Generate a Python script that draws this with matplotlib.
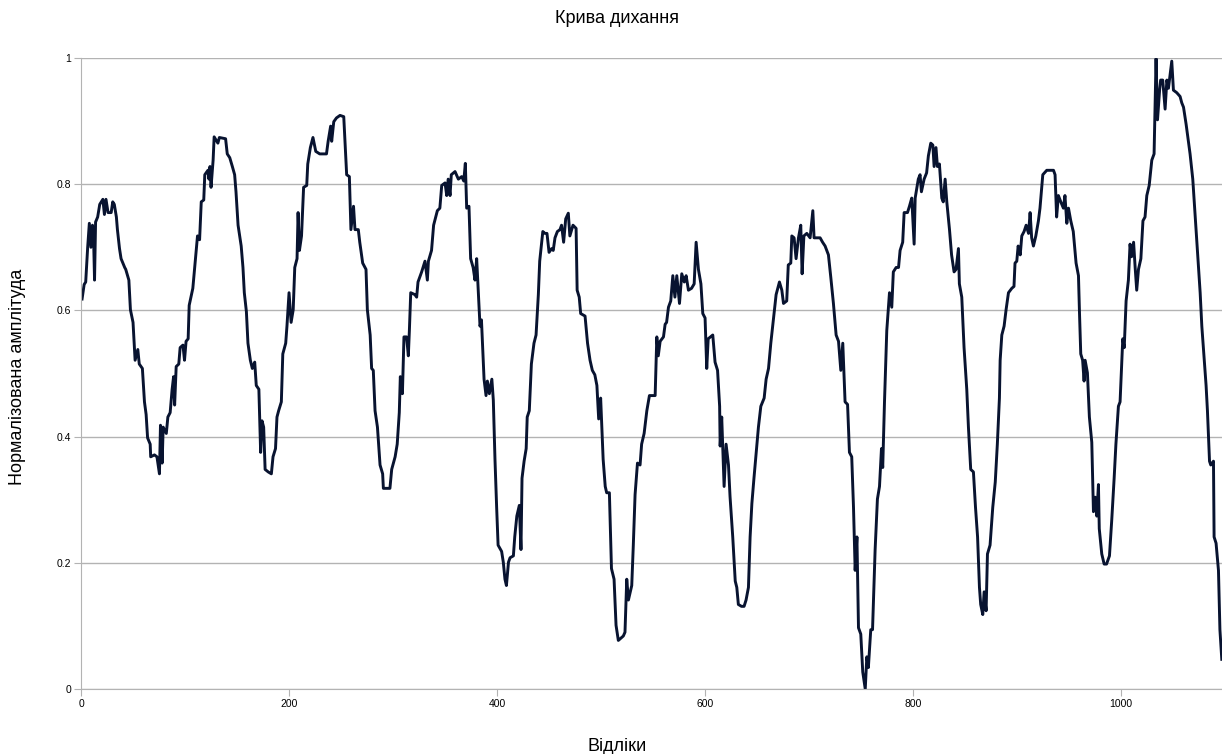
import numpy as np
import matplotlib
matplotlib.use('Agg')
import matplotlib.pyplot as plt

# (sample index, normalised amplitude), in four stretches
part1 = [(1,0.618),(3,0.641),(4.5,0.645),(6.4,0.70),(8,0.738),(9.5,0.70),(11,0.735),(12,0.72),(13,0.648),
         (14,0.74),(16,0.748),(18,0.768),(21,0.776),(22.5,0.752),(24,0.776),(26,0.755),(29,0.755),(30.5,0.772),
         (32,0.768),(34,0.748),(35,0.728),(37,0.698),(38.5,0.682),(42,0.668),(43,0.665),(46,0.648),(47.5,0.601),
         (50,0.581),(52,0.521),(54.6,0.538),(56,0.515),(59,0.508),(61,0.455),(62.6,0.435),(64,0.398),(66.5,0.388),
         (67,0.368),(70.6,0.371),(73,0.368),(75.4,0.341),(76.4,0.418),(78,0.358),(79,0.415),(82,0.405),(83.5,0.431),
         (85.7,0.438),(87.6,0.475),(89,0.495),(90,0.45),(91.5,0.511),(94,0.515),(95.3,0.541),(98,0.545),(99.5,0.521),
         (101,0.551),(103,0.555),(104,0.608),(107.5,0.635),(110,0.682),(112,0.718),(114,0.712),(115.6,0.772),
         (118,0.775),(119,0.815),(122,0.822),(123,0.808),(124,0.828),(125,0.795),(127,0.838),(128,0.875),
         (131.6,0.865),(133,0.874),(139,0.872),(140.6,0.848),(143,0.842),(145.5,0.828),(147.7,0.815),(149,0.788),
         (151,0.735),(154,0.702),(155.7,0.668),(157,0.628),(159,0.598),(160.5,0.548),(162.8,0.521),(164.7,0.508),
         (167,0.518),(168.5,0.481),(171,0.475),(172.7,0.375),(174,0.425),(175.6,0.415),(177,0.348),(180,0.344),
         (183,0.341),(184.6,0.368),(187,0.381),(188.4,0.431),(190,0.441),(192.6,0.455),(194,0.531),(196.8,0.548),
         (198,0.575),(200,0.628),(202,0.581),(204,0.601),(205.5,0.668),(207.7,0.682),(208.7,0.755),(210,0.695),
         (212,0.718),(214,0.795),(217,0.798),(218,0.832),(220.5,0.858),(223,0.874),(225.7,0.852),(229.5,0.848),
         (236,0.848),(237.6,0.868),(240,0.892),(241,0.868),(243,0.899),(245.6,0.905),(249,0.909),(252.6,0.907)]

part2 = [(255.4,0.815),(258,0.812),(259.5,0.728),(262,0.765),(263.4,0.728),(266.6,0.728),(268,0.708),(270.8,0.675),
         (274,0.665),(275.3,0.601),(278,0.561),(279.4,0.508),(281,0.505),(282.7,0.441),(285,0.415),(287.5,0.355),
         (290,0.341),(290.7,0.318),(297,0.318),(298.7,0.348),(302,0.368),(304,0.388),(306,0.438),(307,0.495),
         (309,0.468),(310.5,0.558),(313,0.558),(314.7,0.528),(315.7,0.568),(317,0.628),(321,0.625),(322.7,0.621),
         (324,0.645),(327.5,0.661),(330.7,0.678),(333,0.648),(334,0.678),(337,0.695),(339,0.735),(342.6,0.758),
         (345,0.762),(346.8,0.798),(350,0.802),(351.6,0.782),(353,0.808),(354.8,0.782),(356,0.815),(359.6,0.820),
         (362.8,0.808),(366,0.812),(368,0.805),(369.5,0.833),(370.8,0.762),(373,0.765),(374.6,0.682),(377,0.668),
         (378.8,0.648),(380.4,0.682),(382,0.628),(383.6,0.575),(385,0.585),(387.5,0.491),(389.4,0.465),(390.7,0.488),
         (392.6,0.468),(395,0.491),(396.4,0.458),(398,0.364),(399.6,0.288),(401,0.228),(404.4,0.218),(406,0.201),
         (407.6,0.174),(409,0.164),(411,0.201),(412.5,0.208),(415.7,0.211),(417,0.241),(419,0.274),(421.4,0.291),
         (423,0.221),(424,0.334),(426,0.361),(428,0.381),(429,0.431),(431,0.441),(433,0.515),(435.5,0.548),
         (437.5,0.561),(439.7,0.625),(441,0.678),(444,0.725),(446,0.722),(448,0.722),(450,0.692),(452.5,0.698),
         (454,0.695),(455.7,0.715),(458,0.725),(460.5,0.728),(462,0.735),(464,0.708),(466,0.745),(468.5,0.754),
         (470,0.718),(473,0.735),(476,0.730),(477,0.632),(479,0.621),(480.4,0.595),(484.6,0.591),(487,0.548),
         (489.4,0.521),(491.6,0.505),(494,0.498),(496,0.481),(497.7,0.428),(499.6,0.461),(502,0.364),(504,0.321),
         (505.4,0.311),(508,0.311),(510,0.191),(512.5,0.174),(514.4,0.101),(516.6,0.077),(521.4,0.084)]

part3 = [(523,0.090),(524.7,0.174),(526.3,0.141),(529.5,0.164),(531,0.228),(532.7,0.308),(535,0.358),(537.5,0.355),
         (539,0.388),(541.4,0.405),(544,0.441),(546.5,0.465),(552,0.465),(553.6,0.558),(555,0.528),(556.8,0.551),
         (560,0.558),(561.6,0.578),(563,0.581),(564.8,0.605),(567,0.615),(569,0.655),(571,0.621),(572.8,0.655),
         (575.4,0.611),(577.6,0.658),(580,0.645),(581.8,0.655),(584,0.632),(587,0.635),(589.5,0.642),(591.4,0.708),
         (593.6,0.665),(596,0.642),(597.8,0.595),(600,0.588),(601.6,0.508),(603,0.555),(607.4,0.561),(609.6,0.518),
         (612,0.505),(614,0.448),(614.5,0.385),(616,0.431),(618.3,0.321),(620.2,0.388),(622.5,0.355),(624,0.305),
         (626.6,0.241),(629,0.171),(630.5,0.161),(632,0.134),(635,0.131),(637.5,0.131),(639.4,0.141),(641.7,0.161),
         (643.3,0.241),(645,0.294),(647,0.334),(649,0.371),(651.3,0.415),(653.6,0.448),(656.8,0.461),(658.7,0.491),
         (661,0.508),(663.2,0.548),(665.7,0.585),(668.3,0.625),(671.5,0.645),(673.8,0.632),(675.4,0.611),(678.5,0.615),
         (680,0.672),(682.4,0.675),(683.4,0.718),(685.6,0.715),(687.5,0.682),(689.8,0.715),(692,0.735),(693.3,0.658),
         (695,0.718),(697.8,0.722),(701,0.715),(703.6,0.758),(704.8,0.715),(707.4,0.715),(710.6,0.715),(713,0.708),
         (715.4,0.702),(718.6,0.688),(720.9,0.652),(723.4,0.611),(726,0.561),(728.3,0.551),(730.5,0.505),(732.4,0.548),
         (734.6,0.455),(737,0.451),(738.8,0.375),(741,0.368),(742.7,0.288),(744.3,0.188),(746,0.241),(747.5,0.097),
         (749.7,0.087),(751.6,0.027),(754,0.000),(755.5,0.051),(757,0.034),(759.3,0.094),(761,0.094),(763.5,0.221),
         (765.7,0.301),(767.7,0.321),(769.6,0.381),(770.8,0.351),(772.5,0.455),(774.7,0.568),(777.3,0.628),
         (779.5,0.605),(781,0.661),(783.7,0.668),(786,0.668),(787.5,0.695)]

part4 = [(790,0.708),(791.4,0.755),(794.6,0.755),(796.5,0.765),(798.7,0.778),(801,0.705),(802,0.778),(805,0.808),
         (806.7,0.815),(808,0.788),(810.6,0.808),(813,0.818),(814.7,0.845),(817,0.865),(819,0.862),(820.2,0.828),
         (822,0.858),(823.4,0.828),(825.3,0.832),(827.6,0.778),(829,0.772),(830.8,0.808),(832.4,0.772),(835,0.728),
         (837,0.688),(839.4,0.661),(841.3,0.665),(843.6,0.698),(844.5,0.642),(846.8,0.621),(849,0.541),(851.6,0.475),
         (853.2,0.415),(855.4,0.348),(858,0.344),(860,0.288),(862,0.241),(863.8,0.161),(865,0.134),(867,0.118),
         (868.3,0.154),(870.2,0.124),(871.5,0.214),(874,0.228),(876.6,0.288),(879,0.328),(881,0.388),(883,0.461),
         (883.7,0.521),(885.3,0.561),(887.5,0.575),(889.4,0.601),(891.7,0.628),(894.9,0.635),(897,0.638),(898,0.675),
         (899.7,0.678),(901,0.702),(903,0.688),(904.5,0.718),(906.7,0.725),(908.7,0.735),(911,0.722),(912.5,0.755),
         (914,0.715),(915.7,0.702),(918,0.718),(920.5,0.742),(922,0.762),(924.7,0.815),(928.5,0.822),(935,0.822),
         (936.5,0.815),(938,0.748),(939.7,0.782),(942,0.772),(944.5,0.762),(946,0.782),(947.8,0.738),(949.4,0.762),
         (951.6,0.742),(954,0.725),(956.7,0.675),(959,0.655),(960,0.595),(961.2,0.531),(963,0.521),(964.4,0.488),
         (965.4,0.521),(967.6,0.501),(969.5,0.431),(971.8,0.391),(973.4,0.281),(975,0.304),(976.6,0.274),(978.2,0.324),
         (979,0.254),(981.4,0.214),(983.7,0.198),(986,0.198),(988.8,0.211),(991,0.268),(993.3,0.334),(995,0.388),
         (997.4,0.448),(999,0.455),(1000.6,0.515),(1001.6,0.555),(1003,0.541),(1004.8,0.615),(1007,0.648),
         (1008.6,0.705),(1010,0.685),(1012,0.708),(1013.5,0.668),(1015,0.632),(1016.7,0.665),(1019,0.682),
         (1021,0.742),(1023,0.748),(1024.7,0.782),(1027,0.798),(1029.5,0.838),(1031.7,0.848),(1033.6,0.999),
         (1035,0.902),(1037,0.949),(1038,0.965),(1040,0.965),(1042.3,0.919),(1044,0.965),(1045.5,0.952),
         (1047.7,0.982),(1048.7,0.995),(1050.3,0.949),(1053.5,0.945),(1056.7,0.939),(1058.3,0.929),(1060,0.922),
         (1062.5,0.895),(1064.7,0.868),(1066.3,0.848),(1068.9,0.808),(1071,0.755),(1073.4,0.695),(1076,0.628),
         (1077.6,0.575),(1080,0.521),(1081.7,0.481),(1083,0.441),(1085,0.361),(1086.2,0.355),(1088.8,0.361),
         (1089.4,0.241),(1091.3,0.231),(1093.6,0.188),(1095,0.094),(1096.8,0.047)]

x_ticks = [0, 200, 400, 600, 800, 1000]
y_ticks = [0, 0.2, 0.4, 0.6, 0.8, 1]
y_tick_labels = ['0', '0.2', '0.4', '0.6', '0.8', '1']

data = np.array(part1 + part2 + part3 + part4)
samples, amp = data[:, 0], data[:, 1]

plt.rcParams['font.family'] = ['Liberation Sans', 'DejaVu Sans']

fig = plt.figure(figsize=(12.22, 7.54), dpi=100)
ax = fig.add_axes([0.0663, 0.0862, 0.9337, 0.8369])

ax.plot(samples, amp, color='#081330', lw=2.1, solid_joinstyle='round')

ax.set_xlim(0, 1097)
ax.set_ylim(0, 1)
ax.set_xticks(x_ticks)
ax.set_yticks(y_ticks)
ax.set_yticklabels(y_tick_labels)
ax.yaxis.grid(True, color='#b3b3b3', lw=1)
ax.set_axisbelow(True)
for s in ['top', 'right']:
    ax.spines[s].set_visible(False)
for s in ['left', 'bottom']:
    ax.spines[s].set_color('#b3b3b3')
ax.tick_params(axis='both', length=5, color='#b3b3b3', labelsize=7.5, labelcolor='black', pad=2)

fig.text(0.505, 0.976, 'Крива дихання', ha='center', va='center', fontsize=13)
fig.text(0.505, 0.010, 'Відліки', ha='center', va='center', fontsize=13)
fig.text(0.014, 0.5, 'Нормалізована амплітуда', ha='center', va='center', rotation=90, fontsize=13)

fig.savefig('out.png', dpi=100)
